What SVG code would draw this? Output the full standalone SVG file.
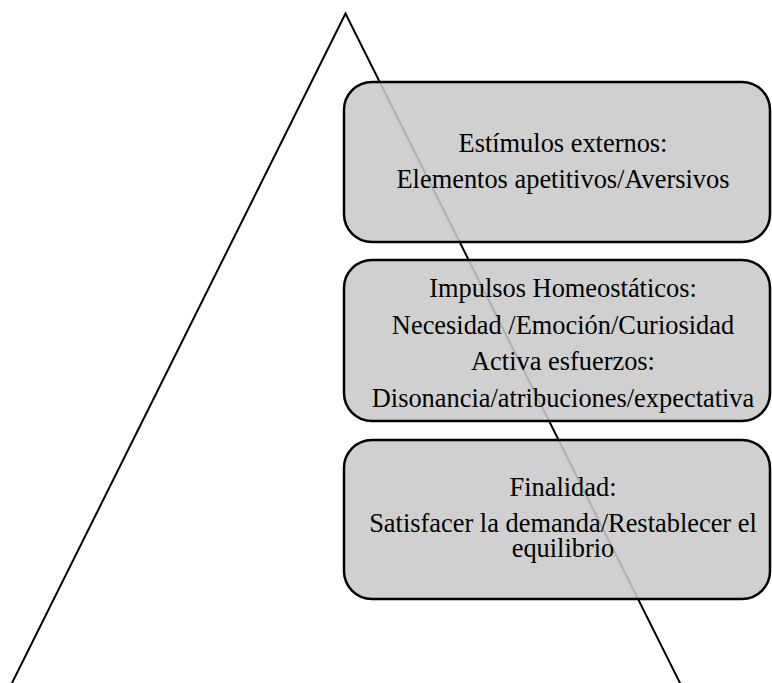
<svg xmlns="http://www.w3.org/2000/svg" width="772" height="683" viewBox="0 0 772 683">
  <style>
    .box { fill: #c9c9c9; fill-opacity: 0.875; stroke: #000; stroke-width: 2.5; }
    .tri { fill: none; stroke: #000; stroke-width: 2; stroke-linejoin: miter; }
    .t { font-family: "Liberation Serif", "Times New Roman", serif; font-size: 26.4px; fill: #000; text-anchor: middle; }
  </style>
  <rect width="772" height="683" fill="#fff"/>
  <g id="connectors">
    <polyline class="tri" points="11,685 345.5,13.5 681,685"/>
  </g>
  <g id="node-estimulos">
    <rect class="box" x="344" y="82" width="426" height="160" rx="28" ry="28"/>
    <text class="t" x="563" y="152">Estímulos externos:</text>
    <text class="t" x="563" y="188">Elementos apetitivos/Aversivos</text>
  </g>
  <g id="node-impulsos">
    <rect class="box" x="344" y="260" width="426" height="161" rx="28" ry="28"/>
    <text class="t" x="563" y="297">Impulsos Homeostáticos:</text>
    <text class="t" x="563" y="334">Necesidad /Emoción/Curiosidad</text>
    <text class="t" x="563" y="370">Activa esfuerzos:</text>
    <text class="t" x="563" y="407">Disonancia/atribuciones/expectativa</text>
  </g>
  <g id="node-finalidad">
    <rect class="box" x="344" y="440" width="426" height="159" rx="28" ry="28"/>
    <text class="t" x="563" y="496">Finalidad:</text>
    <text class="t" x="563" y="532">Satisfacer la demanda/Restablecer el</text>
    <text class="t" x="563" y="557">equilibrio</text>
  </g>
</svg>
